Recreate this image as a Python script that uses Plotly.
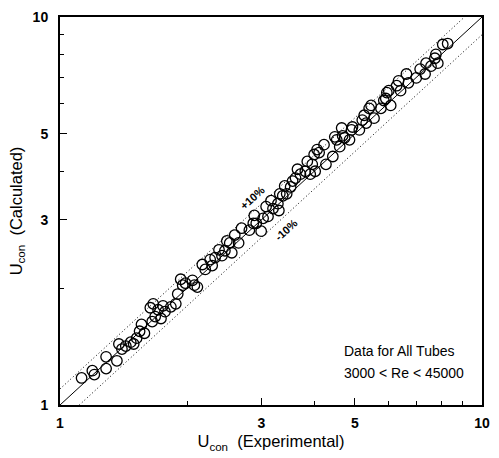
import plotly.graph_objects as go

# Overall heat transfer coefficient: experimental vs calculated
u_exp = [
    1.125, 1.193, 1.206, 1.286, 1.286, 1.364, 1.379, 1.402, 1.432, 1.471,
    1.495, 1.519, 1.544, 1.560, 1.585, 1.637, 1.654, 1.663, 1.681, 1.708,
    1.735, 1.754, 1.773, 1.831, 1.881, 1.901, 1.932, 1.953, 1.984, 2.060,
    2.082, 2.116, 2.174, 2.209, 2.269, 2.294, 2.331, 2.381, 2.420, 2.459,
    2.485, 2.525, 2.553, 2.595, 2.650, 2.693, 2.810, 2.871, 2.887, 2.918,
    2.997, 3.029, 3.079, 3.111, 3.162, 3.197, 3.283, 3.301, 3.318, 3.372,
    3.408, 3.445, 3.520, 3.558, 3.615, 3.654, 3.713, 3.814, 3.855, 3.917,
    3.960, 4.002, 4.024, 4.067, 4.112, 4.223, 4.268, 4.431, 4.479, 4.527,
    4.601, 4.650, 4.675, 4.726, 4.853, 4.906, 4.932, 5.121, 5.204, 5.259,
    5.316, 5.402, 5.460, 5.548, 5.761, 5.853, 5.916, 5.949, 6.013, 6.076,
    6.277, 6.343, 6.413, 6.621, 6.693, 6.985, 7.136, 7.330, 7.369, 7.570,
    7.733, 7.775, 7.857, 8.073, 8.291,
]
u_calc = [
    1.174, 1.226, 1.198, 1.331, 1.241, 1.300, 1.436, 1.394, 1.419, 1.452,
    1.436, 1.487, 1.549, 1.613, 1.531, 1.781, 1.641, 1.823, 1.690, 1.760,
    1.671, 1.801, 1.740, 1.791, 1.823, 1.932, 2.109, 2.036, 2.060, 2.096,
    2.036, 2.013, 2.302, 2.236, 2.370, 2.288, 2.398, 2.512, 2.426, 2.498,
    2.648, 2.617, 2.468, 2.742, 2.617, 2.855, 2.822, 2.940, 3.080, 2.940,
    2.806, 3.027, 3.246, 3.062, 3.362, 3.208, 3.303, 3.172, 3.502, 3.461,
    3.669, 3.502, 3.647, 3.777, 3.844, 4.051, 3.934, 4.004, 4.244, 3.934,
    4.172, 4.422, 4.004, 4.552, 4.473, 4.687, 4.172, 4.370, 4.910, 4.825,
    4.632, 5.175, 4.940, 4.882, 4.825, 5.116, 5.206, 5.116, 5.423, 5.582,
    5.329, 5.815, 5.918, 5.485, 5.815, 6.092, 6.165, 6.384, 6.458, 5.918,
    6.651, 6.846, 6.458, 7.131, 6.767, 6.966, 7.341, 7.131, 7.603, 7.471,
    7.829, 8.013, 7.603, 8.493, 8.543,
]

axis_min, axis_max = 1, 10
band = 0.10  # +/- 10 % deviation band
tick_vals = [1, 3, 5, 10]
tick_text = ["1", "3", "5", "10"]
minor_vals = [2, 4, 6, 7, 8, 9]

fig = go.Figure()

# perfect-agreement line
fig.add_trace(go.Scatter(
    x=[axis_min, axis_max], y=[axis_min, axis_max], mode="lines",
    line=dict(color="black", width=1), hoverinfo="skip", showlegend=False))

# +10 % and -10 % lines
dotted = dict(color="black", width=1, dash="1px,2.5px")
fig.add_trace(go.Scatter(
    x=[axis_min, axis_max / (1 + band)],
    y=[axis_min * (1 + band), axis_max], mode="lines",
    line=dotted, showlegend=False))
fig.add_trace(go.Scatter(
    x=[axis_min / (1 - band), axis_max],
    y=[axis_min, axis_max * (1 - band)], mode="lines",
    line=dotted, showlegend=False))

fig.add_trace(go.Scatter(
    x=u_exp, y=u_calc, mode="markers",
    marker=dict(symbol="circle-open", size=10.5, color="black",
                line=dict(color="black", width=1.3)),
    showlegend=False))

axis_common = dict(
    type="log", range=[0, 1], tickvals=tick_vals, ticktext=tick_text,
    ticks="inside", ticklen=7, tickwidth=1.3, tickcolor="black",
    showline=True, mirror=True, linecolor="black", linewidth=2,
    showgrid=False, zeroline=False,
    tickfont=dict(family="Liberation Sans", size=14, color="black", weight="bold"),
    minor=dict(tickvals=minor_vals, ticks="inside", ticklen=4,
               tickcolor="black", tickwidth=1, showgrid=False),
)

fig.update_xaxes(**axis_common, ticklabelstandoff=4,
                 title=dict(text="U<sub>con</sub>  (Experimental)",
                            font=dict(family="Liberation Sans", size=16.5, color="black"),
                            standoff=6))
fig.update_yaxes(**axis_common, ticklabelstandoff=7,
                 title=dict(text="U<sub>con</sub>  (Calculated)",
                            font=dict(family="Liberation Sans", size=16.5, color="black"),
                            standoff=6))

annots = [
    dict(x=0.455, y=0.534, text="+10%", textangle=-42),
    dict(x=0.535, y=0.452, text="-10%", textangle=-42),
]
for a in annots:
    fig.add_annotation(xref="paper", yref="paper", showarrow=False,
                       font=dict(family="Liberation Sans", size=11, color="black",
                                 weight="bold"), **a)

fig.add_annotation(xref="paper", yref="paper", x=0.668, y=0.114, xanchor="left",
                   showarrow=False, text="Data for All Tubes",
                   font=dict(family="Liberation Sans", size=14, color="black"))
fig.add_annotation(xref="paper", yref="paper", x=0.668, y=0.056, xanchor="left",
                   showarrow=False, text="3000 &lt; Re &lt; 45000",
                   font=dict(family="Liberation Sans", size=14, color="black"))

fig.update_layout(
    width=499, height=458,
    margin=dict(l=60, r=9, t=10, b=53),
    plot_bgcolor="white", paper_bgcolor="white",
)

fig.write_html("out.html")
